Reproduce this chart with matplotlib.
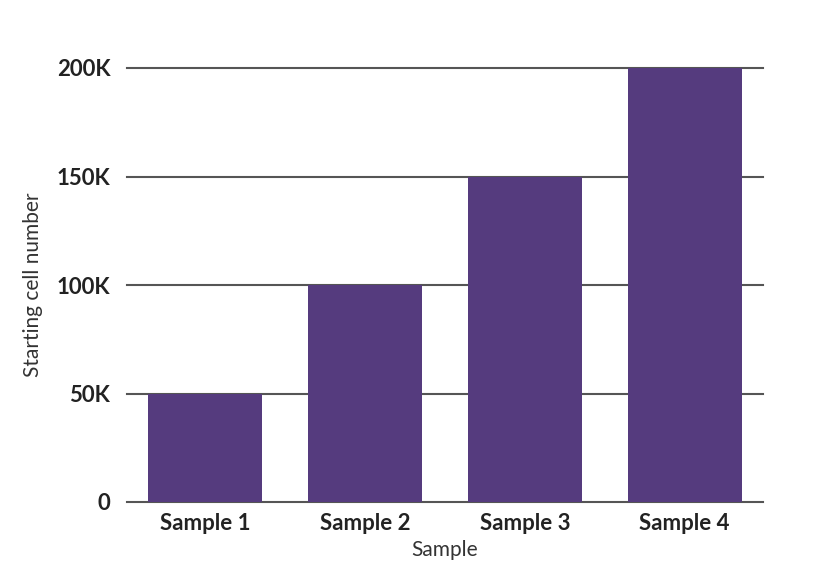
import matplotlib
matplotlib.use("Agg")
import matplotlib.pyplot as plt

categories = ["Sample 1", "Sample 2", "Sample 3", "Sample 4"]
values = [50000, 100000, 150000, 200000]
yticks = [0, 50000, 100000, 150000, 200000]
ytick_labels = ["0", "50K", "100K", "150K", "200K"]

plt.rcParams['font.family'] = ['Lato', 'DejaVu Sans']
fig = plt.figure(figsize=(8.34, 5.84), dpi=100)
ax = fig.add_axes([127/834, 82/584, 636/834, 434/584])
x = range(len(categories))
ax.bar(x, values, width=0.715, color="#553b7e", zorder=3)
ax.set_xlim(-0.49, 3.49)
ax.set_ylim(0, 200000)
ax.set_yticks(yticks)
ax.set_yticklabels(ytick_labels, fontsize=16, fontweight='bold', color='#222222')
ax.set_xticks(list(x))
ax.set_xticklabels(categories, fontsize=16, fontweight='bold', color='#222222')
ax.tick_params(length=0, pad=12)
ax.tick_params(axis='x', pad=8)
for y in yticks:
    ax.axhline(y, color='#555555', lw=1.5, zorder=1, clip_on=False)
for s in ax.spines.values():
    s.set_visible(False)
ax.set_xlabel("Sample", fontsize=15, color='#333333', labelpad=4)
ax.set_ylabel("Starting cell number", fontsize=15, color='#333333', labelpad=10)
fig.savefig("out.png", dpi=100)
